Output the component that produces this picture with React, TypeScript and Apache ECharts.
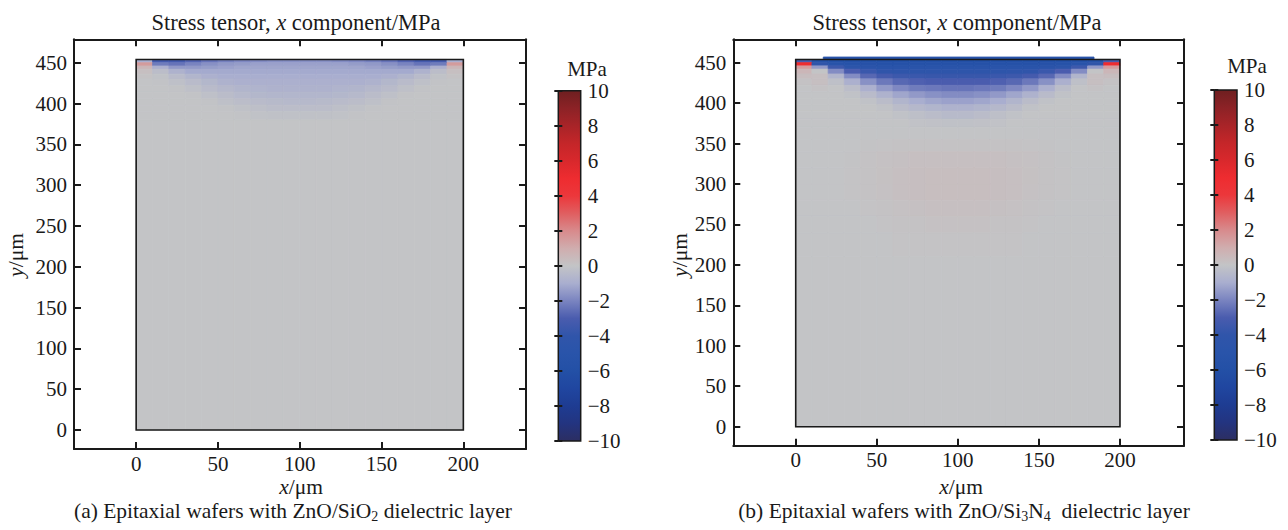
import React, { useEffect, useRef } from "react";
import * as echarts from "echarts";

// ---------- data ----------
const xTickValues = [0, 50, 100, 150, 200];
const yTickValues = [0, 50, 100, 150, 200, 250, 300, 350, 400, 450];

// column edges (x, µm) of the stress-field cells
const colEdges = [0, 10, 20, 30, 40, 50, 60, 70, 80, 90, 100, 110, 120, 130, 140, 150, 160, 170, 180, 190, 200];

// (a) ZnO/SiO2 — row edges (y, µm, top to bottom) and σx values (MPa)
const rowEdgesA = [454, 450, 446, 442, 436, 430, 422, 414, 406, 398, 390, 380, 0];
const fieldA = [
  [-1, -3.2, -3.2, -2.8, -2.4, -2.1, -1.9, -1.8, -1.7, -1.7, -1.7, -1.7, -1.8, -1.9, -2.1, -2.4, -2.8, -3.2, -3.2, -1],
  [1.5, -2.2, -2.4, -2.0, -1.7, -1.5, -1.4, -1.3, -1.3, -1.3, -1.3, -1.3, -1.3, -1.4, -1.5, -1.7, -2.0, -2.4, -2.2, 1.5],
  [0.6, -0.9, -1.5, -1.5, -1.4, -1.3, -1.2, -1.2, -1.2, -1.2, -1.2, -1.2, -1.2, -1.2, -1.3, -1.4, -1.5, -1.5, -0.9, 0.6],
  [0.2, -0.3, -0.8, -1.1, -1.1, -1.1, -1.1, -1.1, -1.1, -1.1, -1.1, -1.1, -1.1, -1.1, -1.1, -1.1, -1.1, -0.8, -0.3, 0.2],
  [0.1, -0.1, -0.4, -0.7, -0.9, -1.0, -1.0, -1.0, -1.0, -1.0, -1.0, -1.0, -1.0, -1.0, -1.0, -0.9, -0.7, -0.4, -0.1, 0.1],
  [0, -0.05, -0.2, -0.4, -0.6, -0.8, -0.9, -0.9, -0.9, -0.9, -0.9, -0.9, -0.9, -0.9, -0.8, -0.6, -0.4, -0.2, -0.05, 0],
  [0, 0, -0.05, -0.2, -0.4, -0.55, -0.7, -0.75, -0.8, -0.8, -0.8, -0.8, -0.75, -0.7, -0.55, -0.4, -0.2, -0.05, 0, 0],
  [0, 0, 0, -0.05, -0.2, -0.35, -0.5, -0.6, -0.65, -0.65, -0.65, -0.65, -0.6, -0.5, -0.35, -0.2, -0.05, 0, 0, 0],
  [0, 0, 0, 0, -0.05, -0.2, -0.3, -0.4, -0.45, -0.5, -0.5, -0.45, -0.4, -0.3, -0.2, -0.05, 0, 0, 0, 0],
  [0, 0, 0, 0, 0, -0.05, -0.15, -0.25, -0.3, -0.3, -0.3, -0.3, -0.25, -0.15, -0.05, 0, 0, 0, 0, 0],
  [0, 0, 0, 0, 0, 0, -0.05, -0.1, -0.15, -0.15, -0.15, -0.15, -0.1, -0.05, 0, 0, 0, 0, 0, 0],
  [0, 0, 0, 0, 0, 0, 0, 0, 0, 0, 0, 0, 0, 0, 0, 0, 0, 0, 0, 0],
];

// (b) ZnO/Si3N4 — row edges (y, µm, top to bottom) and σx values (MPa)
const rowEdgesB = [454, 450, 446, 442, 436, 430, 422, 414, 406, 398, 390, 380, 370, 355, 340, 320, 300, 280, 260, 240, 210, 0];
const fieldB = [
  [-3, -5.5, -5.8, -6, -6, -6, -6, -6, -6, -6, -6, -6, -6, -6, -6, -6, -6, -5.8, -5.5, -3],
  [5, -4, -5, -5.3, -5.4, -5.5, -5.5, -5.5, -5.5, -5.5, -5.5, -5.5, -5.5, -5.5, -5.5, -5.4, -5.3, -5, -4, 5],
  [1.5, -1.5, -3.5, -4.4, -4.7, -4.8, -4.9, -4.9, -4.9, -4.9, -4.9, -4.9, -4.9, -4.9, -4.8, -4.7, -4.4, -3.5, -1.5, 1.5],
  [0.6, 0, -1.8, -3, -3.6, -4, -4.2, -4.3, -4.3, -4.3, -4.3, -4.3, -4.3, -4.2, -4, -3.6, -3, -1.8, 0, 0.6],
  [0.3, 0.2, -0.7, -1.8, -2.7, -3.2, -3.5, -3.6, -3.7, -3.7, -3.7, -3.7, -3.6, -3.5, -3.2, -2.7, -1.8, -0.7, 0.2, 0.3],
  [0.1, 0.2, -0.2, -0.9, -1.7, -2.3, -2.7, -2.9, -3, -3, -3, -3, -2.9, -2.7, -2.3, -1.7, -0.9, -0.2, 0.2, 0.1],
  [0, 0.1, 0, -0.3, -0.9, -1.5, -1.9, -2.2, -2.3, -2.4, -2.4, -2.3, -2.2, -1.9, -1.5, -0.9, -0.3, 0, 0.1, 0],
  [0, 0, 0, -0.1, -0.4, -0.8, -1.2, -1.5, -1.7, -1.8, -1.8, -1.7, -1.5, -1.2, -0.8, -0.4, -0.1, 0, 0, 0],
  [0, 0, 0, 0, -0.1, -0.35, -0.7, -1, -1.2, -1.3, -1.3, -1.2, -1, -0.7, -0.35, -0.1, 0, 0, 0, 0],
  [0, 0, 0, 0, 0, -0.1, -0.35, -0.55, -0.7, -0.8, -0.8, -0.7, -0.55, -0.35, -0.1, 0, 0, 0, 0, 0],
  [0, 0, 0, 0, 0, 0, -0.1, -0.25, -0.35, -0.45, -0.45, -0.35, -0.25, -0.1, 0, 0, 0, 0, 0, 0],
  [0, 0, 0, 0, 0, 0, 0, -0.08, -0.12, -0.15, -0.15, -0.12, -0.08, 0, 0, 0, 0, 0, 0, 0],
  [0, 0, 0, 0, 0, 0, 0, 0, 0, 0, 0, 0, 0, 0, 0, 0, 0, 0, 0, 0],
  [0, 0, 0, 0, 0.03, 0.05, 0.08, 0.08, 0.08, 0.08, 0.08, 0.08, 0.08, 0.08, 0.05, 0.03, 0, 0, 0, 0],
  [0, 0, 0, 0.03, 0.08, 0.12, 0.16, 0.2, 0.2, 0.2, 0.2, 0.2, 0.2, 0.16, 0.12, 0.08, 0.03, 0, 0, 0],
  [0, 0, 0, 0.04, 0.08, 0.15, 0.2, 0.25, 0.28, 0.28, 0.28, 0.28, 0.25, 0.2, 0.15, 0.08, 0.04, 0, 0, 0],
  [0, 0, 0, 0.04, 0.08, 0.12, 0.2, 0.25, 0.28, 0.28, 0.28, 0.28, 0.25, 0.2, 0.12, 0.08, 0.04, 0, 0, 0],
  [0, 0, 0, 0, 0.04, 0.08, 0.12, 0.16, 0.2, 0.2, 0.2, 0.2, 0.16, 0.12, 0.08, 0.04, 0, 0, 0, 0],
  [0, 0, 0, 0, 0, 0.04, 0.08, 0.08, 0.12, 0.12, 0.12, 0.12, 0.08, 0.08, 0.04, 0, 0, 0, 0, 0],
  [0, 0, 0, 0, 0, 0, 0.04, 0.04, 0.04, 0.04, 0.04, 0.04, 0.04, 0.04, 0, 0, 0, 0, 0, 0],
  [0, 0, 0, 0, 0, 0, 0, 0, 0, 0, 0, 0, 0, 0, 0, 0, 0, 0, 0, 0],
];
// thin film strip on top of wafer (b): [x0, x1, y0, y1, value]
const filmB = [17, 184, 454, 457, -5];

// wafer outline [x0, x1, y0, y1]
const waferBox = [0, 200, 0, 454];

// colour scale (MPa) and its colours, from -10 to 10 in steps of 1
const scaleMin = -10;
const scaleMax = 10;
const scaleColors = [
  "#2c2e62", "#233480", "#1e3c92", "#2046a0", "#2350a6", "#2954aa", "#3055aa", "#4a5cae", "#7a84c0", "#a9aecf",
  "#c3c4c6",
  "#d0adae", "#d88a8c", "#e05e60", "#ec373b", "#ee2c30", "#d8282c", "#c42629", "#a82428", "#8c2226", "#6e1f20",
];

// ---------- helpers ----------
const FONT = '"Liberation Serif", "Times New Roman", serif';
const INK = "#1a1a1a";
const TICK_FS = 21;
const TEXT_FS = 21.5;

function buildCells(rowEdges: number[], field: number[][]) {
  const out: number[][] = [];
  for (let r = 0; r < field.length; r++) {
    for (let c = 0; c < colEdges.length - 1; c++) {
      out.push([colEdges[c], colEdges[c + 1], rowEdges[r + 1], rowEdges[r], field[r][c]]);
    }
  }
  return out;
}

const cellRender = (_p: any, api: any) => {
  const a = api.coord([api.value(0), api.value(3)]);
  const b = api.coord([api.value(1), api.value(2)]);
  const color = api.visual("color");
  return {
    type: "rect",
    shape: { x: a[0], y: a[1], width: b[0] - a[0], height: b[1] - a[1] },
    style: { fill: color, stroke: color, lineWidth: 0.8 },
  };
};

const boxRender = (_p: any, api: any) => {
  const a = api.coord([api.value(0), api.value(3)]);
  const b = api.coord([api.value(1), api.value(2)]);
  return {
    type: "rect",
    shape: { x: a[0], y: a[1], width: b[0] - a[0], height: b[1] - a[1] },
    style: { fill: "none", stroke: INK, lineWidth: 1.6 },
  };
};

const barGradient = () =>
  new echarts.graphic.LinearGradient(
    0, 1, 0, 0,
    scaleColors.map((c, i) => ({ offset: i / (scaleColors.length - 1), color: c }))
  );

const colorbarRender = (_p: any, api: any) => {
  const a = api.coord([0, api.value(1)]);
  const b = api.coord([1, api.value(0)]);
  return {
    type: "rect",
    shape: { x: a[0], y: a[1], width: b[0] - a[0], height: b[1] - a[1] },
    style: { fill: barGradient(), stroke: INK, lineWidth: 1.5 },
  };
};

const minusFmt = (v: number) => (v < 0 ? "\u2212" + Math.abs(v) : String(v));

const lineStyle = { color: INK, width: 2 };

function fieldXAxis(gridIndex: number, position: "top" | "bottom", labels: boolean, min: number, max: number) {
  return {
    type: "value",
    gridIndex,
    position,
    min,
    max,
    axisLine: { show: true, onZero: false, lineStyle },
    axisTick: { show: true, inside: true, length: 7, lineStyle, customValues: xTickValues },
    axisLabel: labels
      ? { show: true, customValues: xTickValues, fontFamily: FONT, fontSize: TICK_FS, color: INK, margin: 4 }
      : { show: false },
    splitLine: { show: false },
  };
}

function fieldYAxis(gridIndex: number, position: "left" | "right", labels: boolean, min: number, max: number) {
  return {
    type: "value",
    gridIndex,
    position,
    min,
    max,
    axisLine: { show: true, onZero: false, lineStyle },
    axisTick: { show: true, inside: true, length: 7, lineStyle, customValues: yTickValues },
    axisLabel: labels
      ? { show: true, customValues: yTickValues, fontFamily: FONT, fontSize: TICK_FS, color: INK, margin: 7 }
      : { show: false },
    splitLine: { show: false },
  };
}

function cbYAxis(gridIndex: number, position: "left" | "right", labels: boolean) {
  return {
    type: "value",
    gridIndex,
    position,
    min: scaleMin,
    max: scaleMax,
    interval: 2,
    z: 10,
    axisLine: { show: false },
    axisTick: { show: true, inside: true, length: 4, lineStyle: { color: INK, width: 2 } },
    axisLabel: labels
      ? { show: true, formatter: minusFmt, fontFamily: FONT, fontSize: TICK_FS, color: INK, margin: 7 }
      : { show: false },
    splitLine: { show: false },
  };
}

function cbXAxis(gridIndex: number) {
  return { type: "value", gridIndex, min: 0, max: 1, show: false };
}

function txt(x: number, y: number, text: string, rich?: any, rotation = 0, fontSize = TEXT_FS) {
  return {
    type: "text",
    x,
    y,
    rotation,
    style: {
      text,
      rich,
      fontFamily: FONT,
      fontSize,
      fill: INK,
      align: "center",
      verticalAlign: "middle",
    },
  };
}

const mkRich = (fs: number) => ({
  n: { fontFamily: FONT, fontSize: fs, color: INK, lineHeight: 25 },
  i: { fontFamily: FONT, fontSize: fs, color: INK, fontStyle: "italic", lineHeight: 25 },
  s: { fontFamily: FONT, fontSize: 14, color: INK, lineHeight: 12, verticalAlign: "bottom" },
});

export default function App() {
  const ref = useRef<HTMLDivElement>(null);

  useEffect(() => {
    if (!ref.current) return;
    const chart = echarts.init(ref.current, undefined, { renderer: "svg" });

    const cellsA = buildCells(rowEdgesA, fieldA);
    const cellsB = buildCells(rowEdgesB, fieldB).concat([filmB]);

    const titleRich = mkRich(22.5);
    const textRich = mkRich(TEXT_FS);

    const option: any = {
      animation: false,
      backgroundColor: "#ffffff",
      textStyle: { fontFamily: FONT },
      grid: [
        { left: 74, top: 39.3, width: 452, height: 409.7 },
        { left: 733.3, top: 39.3, width: 450.7, height: 406.4 },
        { left: 558.3, top: 90.7, width: 22.4, height: 350.3 },
        { left: 1214.3, top: 90, width: 22.7, height: 350 },
      ],
      xAxis: [
        fieldXAxis(0, "bottom", true, -38, 238.3),
        fieldXAxis(0, "top", false, -38, 238.3),
        fieldXAxis(1, "bottom", true, -38.5, 239.5),
        fieldXAxis(1, "top", false, -38.5, 239.5),
        cbXAxis(2),
        cbXAxis(3),
      ],
      yAxis: [
        fieldYAxis(0, "left", true, -23.3, 478.7),
        fieldYAxis(0, "right", false, -23.3, 478.7),
        fieldYAxis(1, "left", true, -23.5, 478.9),
        fieldYAxis(1, "right", false, -23.5, 478.9),
        cbYAxis(2, "right", true),
        cbYAxis(2, "left", false),
        cbYAxis(3, "right", true),
        cbYAxis(3, "left", false),
      ],
      visualMap: {
        type: "continuous",
        show: false,
        min: scaleMin,
        max: scaleMax,
        dimension: 4,
        seriesIndex: [0, 1],
        inRange: { color: scaleColors },
      },
      series: [
        { type: "custom", xAxisIndex: 0, yAxisIndex: 0, renderItem: cellRender, data: cellsA, encode: { x: [0, 1], y: [2, 3] }, z: 1, silent: true },
        { type: "custom", xAxisIndex: 2, yAxisIndex: 2, renderItem: cellRender, data: cellsB, encode: { x: [0, 1], y: [2, 3] }, z: 1, silent: true },
        { type: "custom", xAxisIndex: 0, yAxisIndex: 0, renderItem: boxRender, data: [waferBox], encode: { x: [0, 1], y: [2, 3] }, z: 3, silent: true },
        { type: "custom", xAxisIndex: 2, yAxisIndex: 2, renderItem: boxRender, data: [waferBox], encode: { x: [0, 1], y: [2, 3] }, z: 3, silent: true },
        { type: "custom", xAxisIndex: 4, yAxisIndex: 4, renderItem: colorbarRender, data: [[scaleMin, scaleMax]], encode: { y: [0, 1] }, z: 1, silent: true },
        { type: "custom", xAxisIndex: 5, yAxisIndex: 6, renderItem: colorbarRender, data: [[scaleMin, scaleMax]], encode: { y: [0, 1] }, z: 1, silent: true },
      ],
      graphic: [
        txt(296, 22, "{n|Stress tensor, }{i|x}{n| component/MPa}", titleRich),
        txt(957, 22, "{n|Stress tensor, }{i|x}{n| component/MPa}", titleRich),
        txt(301, 487, "{i|x}{n|/\u03bcm}", textRich),
        txt(961, 487, "{i|x}{n|/\u03bcm}", textRich),
        txt(16, 255, "{i|y}{n|/\u03bcm}", textRich, Math.PI / 2),
        txt(680, 255, "{i|y}{n|/\u03bcm}", textRich, Math.PI / 2),
        txt(587, 69, "MPa", undefined, 0, TICK_FS),
        txt(1247, 66, "MPa", undefined, 0, TICK_FS),
        txt(293, 511, "{n|(a) Epitaxial wafers with ZnO/SiO}{s|2}{n| dielectric layer}", textRich),
        txt(964, 511, "{n|(b) Epitaxial wafers with ZnO/Si}{s|3}{n|N}{s|4}{n|\u00a0 dielectric layer}", textRich),
      ],
    };

    chart.setOption(option);
    return () => chart.dispose();
  }, []);

  return (
    <div
      ref={ref}
      style={{ position: "absolute", left: 0, top: 0, width: 1288, height: 530, background: "#fff" }}
    />
  );
}
